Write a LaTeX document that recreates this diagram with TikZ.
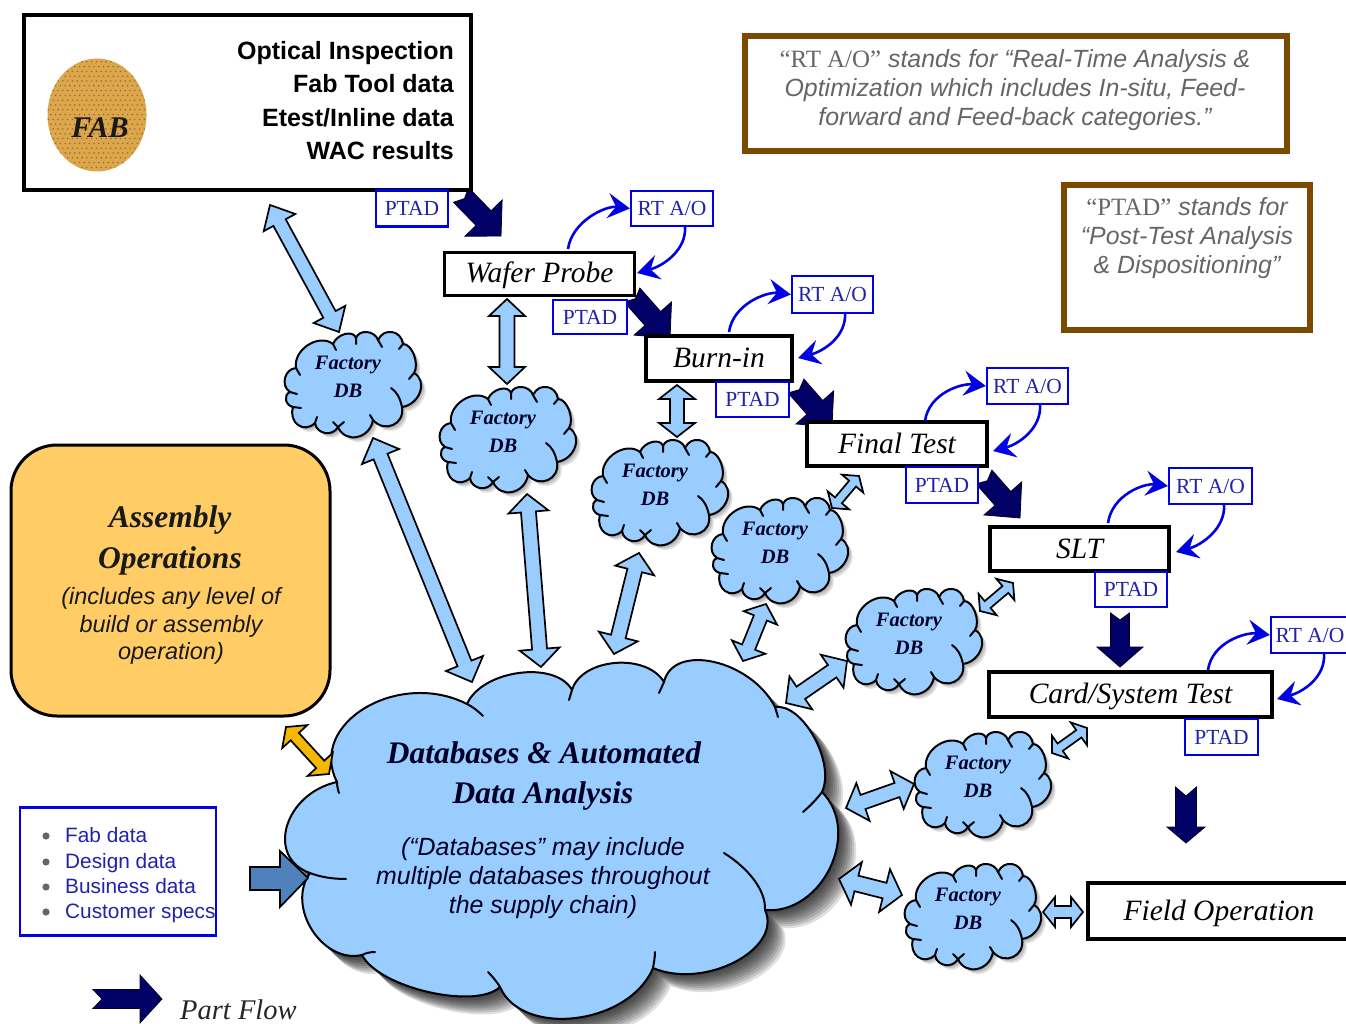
\documentclass[tikz,border=0pt]{standalone}
\usepackage{fontspec}
\setmainfont{Liberation Serif}
\setsansfont{Liberation Sans}
\usetikzlibrary{calc,arrows.meta}
\definecolor{cloudblue}{HTML}{99CCFF}
\definecolor{navyflow}{HTML}{000066}
\definecolor{linkblue}{HTML}{0000E6}
\definecolor{tagtext}{HTML}{2222AA}
\definecolor{brownbox}{HTML}{7B4A00}
\definecolor{noteGray}{HTML}{666666}
\definecolor{asmfill}{HTML}{FFCC66}
\definecolor{asmarrow}{HTML}{F5B800}
\definecolor{inarrow}{HTML}{4F81BD}
\definecolor{waferfill}{HTML}{DCA64C}
\definecolor{waferdot}{HTML}{966428}
\tikzset{
  procbox/.style={draw=black,line width=3.4pt,fill=white,inner sep=0pt,text height=18pt,text depth=0pt,font=\fontsize{29.5}{33}\selectfont\itshape},
  tagbox/.style={draw=linkblue,line width=2.3pt,fill=white,inner sep=0pt,text=tagtext,font=\fontsize{21.5}{25}\selectfont},
  notebox/.style={draw=brownbox,line width=5.5pt,fill=white},
  notetext/.style={text=noteGray,align=center,font=\fontsize{24.9}{28.7}\selectfont\sffamily\itshape},
  rtarrow/.style={draw=linkblue,line width=2.6pt,-{Stealth[length=22pt,width=25pt,inset=8pt]}},
  blockline/.style={draw=black,line width=1.7pt,line join=miter,miter limit=6},
  cloudline/.style={draw=black,line width=2pt,line join=round,line cap=round},
  fabline/.style={inner sep=0pt,anchor=base east,font=\fontsize{25}{29}\selectfont\sffamily\bfseries},
  fdb/.style={inner sep=0pt,text=black!85!blue,font=\fontsize{20.5}{23}\selectfont\bfseries\itshape},
}
% bump from P through apex A to Q
\def\B(#1)(#2)(#3){.. controls ($1.3333*(#2)+0.1833*(#1)-0.5167*(#3)$) and ($1.3333*(#2)-0.5167*(#1)+0.1833*(#3)$) .. (#3)}
\newcommand\dblarrow[6]{% from,to,halfshaft,halfhead,headlen,fill
 \coordinate (ha) at ($(#1)!#5pt!(#2)$);
 \coordinate (hb) at ($(#2)!#5pt!(#1)$);
 \draw[blockline,fill=#6] (#1) -- ($(ha)!#4pt!90:(#2)$) -- ($(ha)!#3pt!90:(#2)$) -- ($(hb)!#3pt!-90:(#1)$) -- ($(hb)!#4pt!-90:(#1)$) -- (#2) -- ($(hb)!#4pt!90:(#1)$) -- ($(hb)!#3pt!90:(#1)$) -- ($(ha)!#3pt!-90:(#2)$) -- ($(ha)!#4pt!-90:(#2)$) -- cycle;
}
\newcommand\flowarrow[7]{% from,to,halfshaft,halfhead,headlen,notch,fill
 \coordinate (hb) at ($(#2)!#5pt!(#1)$);
 \draw[draw=black!70!navyflow,line width=0.8pt,fill=#7,line join=miter] ($(#1)!#3pt!90:(#2)$) -- ($(#1)!#6pt!(#2)$) -- ($(#1)!#3pt!-90:(#2)$) -- ($(hb)!#3pt!90:(#1)$) -- ($(hb)!#4pt!90:(#1)$) -- (#2) -- ($(hb)!#4pt!-90:(#1)$) -- ($(hb)!#3pt!-90:(#1)$) -- cycle;
}
\newcommand\smallcloudpath{(-57,-17) \B(-57,-17)(-45,-40)(-20,-41) \B(-20,-41)(-8,-51)(3,-47) \B(3,-47)(14,-53)(25,-45) \B(25,-45)(39,-53)(50,-41) \B(50,-41)(61,-30)(61,-12) \B(61,-12)(67,7)(49,22) \B(49,22)(40,40)(20,35) \B(20,35)(4,52)(-15,42) \B(-15,42)(-28,48)(-38,38) \B(-38,38)(-55,40)(-60,22) \B(-60,22)(-67,15)(-63,7) \B(-63,7)(-68,-7)(-57,-17) -- cycle}
\newcommand\smallcloud[3]{% name,cx,cy
 \begin{scope}[shift={(#2,#3)}]
  \foreach \off in {1.5,3,4.5} {\fill[black,opacity=0.12,shift={(\off,\off)}] \smallcloudpath;}
  \filldraw[cloudline,fill=cloudblue] \smallcloudpath;
  \draw[cloudline] (-57,-17)--(-53,-10) (-20,-41)--(-17,-35) (3,-47)--(3,-41) (25,-45)--(29,-38) (50,-41)--(46,-36) (61,-12)--(56,-6) (49,22) .. controls (47,13) and (44,7) .. (38,3) (20,35)--(17,30) (-15,42)--(-9,37) (-15,42)--(-20,37) (-38,38)--(-36,32) (-60,22)--(-52,23) (-63,7)--(-56,9);
  \node[fdb] (#1f) at (-5,-20) {Factory};
  \node[fdb] (#1d) at (-5,6) {DB};
 \end{scope}
}
\newcommand\bigcloudpath{(337,782) \B(337,782)(365,708)(467,704) \B(467,704)(519,673)(572,690) \B(572,690)(615,663)(664,682) \B(664,682)(714,662)(775,707) \B(775,707)(814,737)(822,792) \B(822,792)(830,868)(765,910) \B(765,910)(735,962)(653,968) \B(653,968)(576,1018)(500,987) \B(500,987)(428,992)(362,955) \B(362,955)(312,930)(310,873) \B(310,873)(287,826)(337,782) -- cycle}
\begin{document}
\begin{tikzpicture}[x=1pt,y=-1pt]
\useasboundingbox (0,0) rectangle (1346,1024);
\clip (0,0) rectangle (1346,1024);
\fill[white] (0,0) rectangle (1346,1024);

% free ends of the connectors
\coordinate (fabS) at (270,205);   \coordinate (fabT) at (339,332);
\coordinate (wpS) at (507,299);    \coordinate (wpT) at (507,384);
\coordinate (biS) at (677,385);    \coordinate (biT) at (677,437);
\coordinate (ftS) at (859,476);    \coordinate (ftT) at (832,508);
\coordinate (sltS) at (1013,583);  \coordinate (sltT) at (980,611);
\coordinate (cardS) at (1087,728); \coordinate (cardT) at (1052,753);
\coordinate (c1a) at (373,438);    \coordinate (c1b) at (472,682);
\coordinate (c2a) at (527,494);    \coordinate (c2b) at (541,667);
\coordinate (c3a) at (639,553);    \coordinate (c3b) at (614,654);
\coordinate (c4a) at (766,604);    \coordinate (c4b) at (743,661);
\coordinate (c5a) at (847,661);    \coordinate (c5b) at (786,703);
\coordinate (c6a) at (914,784);    \coordinate (c6b) at (846,808);
\coordinate (c7a) at (902,895);    \coordinate (c7b) at (839,879);
\coordinate (fldS) at (1083,912);  \coordinate (fldT) at (1043,912);
\coordinate (asmS) at (286,727);   \coordinate (asmT) at (329,774);
\coordinate (pfS) at (93,999);     \coordinate (pfT) at (162,999);
\coordinate (f1S) at (461,195);    \coordinate (f1T) at (501,236);
\coordinate (f2S) at (632,295);    \coordinate (f2T) at (670,338);
\coordinate (f3S) at (796,386);    \coordinate (f3T) at (832,427);
\coordinate (f4S) at (984,477);    \coordinate (f4T) at (1020,518);
\coordinate (f5S) at (1120,613);   \coordinate (f5T) at (1120,667);
\coordinate (f6S) at (1186,787);   \coordinate (f6T) at (1186,843);

% part-flow arrows
\flowarrow{f1S}{f1T}{10.5}{26}{25}{5}{navyflow}
\flowarrow{f2S}{f2T}{10.5}{25}{26}{5}{navyflow}
\flowarrow{f3S}{f3T}{10.5}{25}{26}{5}{navyflow}
\flowarrow{f4S}{f4T}{10.5}{25}{26}{5}{navyflow}
\flowarrow{f5S}{f5T}{9.5}{23}{20}{7}{navyflow}
\flowarrow{f6S}{f6T}{10.5}{19}{16}{9}{navyflow}
\flowarrow{pfS}{pfT}{9.5}{24}{22}{9}{navyflow}

% FAB
\node[draw=black,line width=3.4pt,fill=white,minimum width=447pt,minimum height=175pt,inner sep=0pt] (fab) at (247.5,102.5) {};
\begin{scope}
 \clip (97,115) ellipse [x radius=49.5,y radius=56.5];
 \fill[waferfill] (40,50) rectangle (155,180);
 \foreach \i in {0,...,21} \foreach \j in {0,...,24} {
   \fill[waferdot] ({46+4.8*\i+2.4*mod(\j,2)},{57+4.8*\j}) circle (0.8);
 }
\end{scope}
\node[inner sep=0pt,text=black!90,font=\fontsize{30}{34}\selectfont\bfseries\itshape] (fabl) at (100,128) {FAB};
\node[fabline] (fab1) at (454,60) {Optical Inspection};
\node[fabline] (fab2) at (454,93) {Fab Tool data};
\node[fabline] (fab3) at (454,126.5) {Etest/Inline data};
\node[fabline] (fab4) at (454,159.5) {WAC results};

% process boxes
\node[procbox,minimum width=190pt,minimum height=43pt] (wp) at (539.5,274) {Wafer Probe};
\node[procbox,minimum width=146pt,minimum height=45pt] (bi) at (719,358.5) {Burn-in};
\node[procbox,minimum width=180pt,minimum height=44pt] (ft) at (897,444) {Final Test};
\node[procbox,minimum width=179pt,minimum height=44pt] (slt) at (1079.5,549) {SLT};
\node[procbox,minimum width=283pt,minimum height=45pt] (card) at (1130.5,694.5) {Card/System Test};
\node[procbox,minimum width=262pt,minimum height=56pt] (fld) at (1219,911) {Field Operation};

% PTAD tags
\node[tagbox,minimum width=72pt,minimum height=36pt] (p1) at (412,208.5) {PTAD};
\node[tagbox,minimum width=74pt,minimum height=34pt] (p2) at (590,317) {PTAD};
\node[tagbox,minimum width=73pt,minimum height=35pt] (p3) at (752.5,399.5) {PTAD};
\node[tagbox,minimum width=72pt,minimum height=36pt] (p4) at (942,485) {PTAD};
\node[tagbox,minimum width=72pt,minimum height=35pt] (p5) at (1131,589.5) {PTAD};
\node[tagbox,minimum width=73pt,minimum height=36pt] (p6) at (1221.5,737) {PTAD};

% RT A/O tags and loops
\node[tagbox,minimum width=82pt,minimum height=35pt] (r1) at (672,208.5) {RT A/O};
\node[tagbox,minimum width=81pt,minimum height=37pt] (r2) at (832.5,294.5) {RT A/O};
\node[tagbox,minimum width=81pt,minimum height=36pt] (r3) at (1027.5,386) {RT A/O};
\node[tagbox,minimum width=83pt,minimum height=36pt] (r4) at (1210.5,486) {RT A/O};
\node[tagbox,minimum width=78pt,minimum height=36pt] (r5) at (1310,635) {RT A/O};
\coordinate (r1u) at (568,249); \coordinate (r1d) at (685,226);
\coordinate (r2u) at (729,332); \coordinate (r2d) at (845,312);
\coordinate (r3u) at (925,421); \coordinate (r3d) at (1040,404);
\coordinate (r4u) at (1108,523);\coordinate (r4d) at (1224,504);
\coordinate (r5u) at (1208,670);\coordinate (r5d) at (1324,653);
\coordinate (r1e) at (637,273); \coordinate (r2e) at (798,358);
\coordinate (r3e) at (993,451); \coordinate (r4e) at (1176,552);
\coordinate (r5e) at (1277,699);
\draw[rtarrow] (r1u) .. controls +(4,-28) and +(-24,-3) .. (r1.west);
\draw[rtarrow] (r2u) .. controls +(4,-28) and +(-24,-3) .. (r2.west);
\draw[rtarrow] (r3u) .. controls +(4,-28) and +(-24,-3) .. (r3.west);
\draw[rtarrow] (r4u) .. controls +(4,-28) and +(-24,-3) .. (r4.west);
\draw[rtarrow] (r5u) .. controls +(4,-28) and +(-24,-3) .. (r5.west);
\draw[rtarrow] (r1d) .. controls +(2,24) and +(26,-7) .. (r1e);
\draw[rtarrow] (r2d) .. controls +(2,24) and +(26,-7) .. (r2e);
\draw[rtarrow] (r3d) .. controls +(2,24) and +(26,-7) .. (r3e);
\draw[rtarrow] (r4d) .. controls +(2,24) and +(26,-7) .. (r4e);
\draw[rtarrow] (r5d) .. controls +(2,24) and +(26,-7) .. (r5e);

% notes
\node[notebox,minimum width=542pt,minimum height=115pt,inner sep=0pt] (n1) at (1016,93.5) {};
\node[notetext] (n1t) at (1015,90) {{\rmfamily\upshape “RT A/O”} stands for “Real-Time Analysis \&\\Optimization which includes In-situ, Feed-\\forward and Feed-back categories.”};
\node[notebox,minimum width=246pt,minimum height=145pt,inner sep=0pt] (n2) at (1187,257.5) {};
\node[notetext] (n2t) at (1187,238) {{\rmfamily\upshape “PTAD”} stands for\\“Post-Test Analysis\\\& Dispositioning”};

% assembly
\node[draw=black,line width=3pt,fill=asmfill,rounded corners=46pt,minimum width=319pt,minimum height=271pt,inner sep=0pt] (asm) at (170.5,580.5) {};
\node[inner sep=0pt,font=\fontsize{31.5}{34}\selectfont\bfseries\itshape,text=black!90] (asm1) at (170,520) {Assembly};
\node[inner sep=0pt,font=\fontsize{31.5}{34}\selectfont\bfseries\itshape,text=black!90] (asm2) at (170,561) {Operations};
\node[inner sep=0pt,align=center,text=black!90,font=\fontsize{23.5}{27.5}\selectfont\sffamily\itshape] (asm3) at (171,626) {(includes any level of\\build or assembly\\operation)};

% input list
\node[draw=linkblue,line width=2.3pt,fill=white,minimum width=196pt,minimum height=128pt,inner sep=0pt] (lst) at (118,871.5) {};
\foreach \yy/\lbl/\nm in {842/Fab data/la,868/Design data/lb,893/Business data/lc,918/Customer specs/ld} {
  \fill[noteGray] (46,\yy-6) circle (3.6);
  \node[anchor=base west,inner sep=0pt,text=tagtext,font=\fontsize{20.8}{24}\selectfont\sffamily] (\nm) at (65,\yy) {\lbl};
}
\node[anchor=base west,inner sep=0pt,font=\fontsize{28.5}{31}\selectfont\itshape,text=black!85] (pf) at (180,1019) {Part Flow};

% factory clouds
\smallcloud{db1}{353}{385}
\smallcloud{db2}{508}{440}
\smallcloud{db3}{660}{493}
\smallcloud{db4}{780}{551}
\smallcloud{db5}{914}{642}
\smallcloud{db6}{983}{785}
\smallcloud{db7}{973}{917}

% main cloud
\foreach \off in {2,4,...,18} {\fill[black,opacity=0.13,shift={(\off,\off)}] \bigcloudpath;}
\filldraw[cloudline,fill=cloudblue] \bigcloudpath;
\draw[cloudline] (467,704) .. controls (473,707) and (478,711) .. (483,716)
  (572,690)--(569,700) (664,682)--(659,693) (775,707)--(778,717)
  (822,792) .. controls (816,800) and (810,806) .. (803,812)
  (765,910) .. controls (766,890) and (748,868) .. (724,853)
  (653,968) .. controls (654,962) and (655,957) .. (655,952)
  (500,987) .. controls (497,982) and (493,977) .. (488,972)
  (362,955) .. controls (366,953) and (370,952) .. (375,952)
  (310,873) .. controls (320,877) and (333,879) .. (346,879)
  (337,782) .. controls (337,786) and (338,790) .. (339,793);
\node[inner sep=0pt,text=black!85!blue,font=\fontsize{31.4}{34}\selectfont\bfseries\itshape] (m1) at (544,753) {Databases \& Automated};
\node[inner sep=0pt,text=black!85!blue,font=\fontsize{31.4}{34}\selectfont\bfseries\itshape] (m2) at (543,796) {Data Analysis};
\node[inner sep=0pt,align=center,text=black!85!blue,font=\fontsize{24.9}{28.7}\selectfont\sffamily\itshape] (m3) at (543,878) {(“Databases” may include\\multiple databases throughout\\the supply chain)};

% two-way block arrows
\dblarrow{fabS}{fabT}{7}{18}{20}{cloudblue}
\dblarrow{wpS}{wpT}{7.5}{18}{17}{cloudblue}
\dblarrow{biS}{biT}{7}{18}{14}{cloudblue}
\dblarrow{ftS}{ftT}{4.5}{14}{10}{cloudblue}
\dblarrow{sltS}{sltT}{4.5}{14}{10}{cloudblue}
\dblarrow{cardS}{cardT}{4.5}{14}{10}{cloudblue}
\dblarrow{c1a}{c1b}{7.5}{20}{20}{cloudblue}
\dblarrow{c2a}{c2b}{7.5}{20}{18}{cloudblue}
\dblarrow{c3a}{c3b}{7.5}{20}{18}{cloudblue}
\dblarrow{c4a}{c4b}{7}{18}{15}{cloudblue}
\dblarrow{c5a}{c5b}{7.5}{20}{18}{cloudblue}
\dblarrow{c6a}{c6b}{7.5}{20}{18}{cloudblue}
\dblarrow{c7a}{c7b}{8}{22}{18}{cloudblue}
\dblarrow{fldS}{fldT}{6}{15}{12}{cloudblue}
\dblarrow{asmS}{asmT}{5.5}{17}{13}{asmarrow}
\draw[blockline,fill=inarrow] (250,867) -- (280,867) -- (280,851) -- (308,878) -- (280,907) -- (280,890) -- (250,890) -- cycle;
\end{tikzpicture}
\end{document}
